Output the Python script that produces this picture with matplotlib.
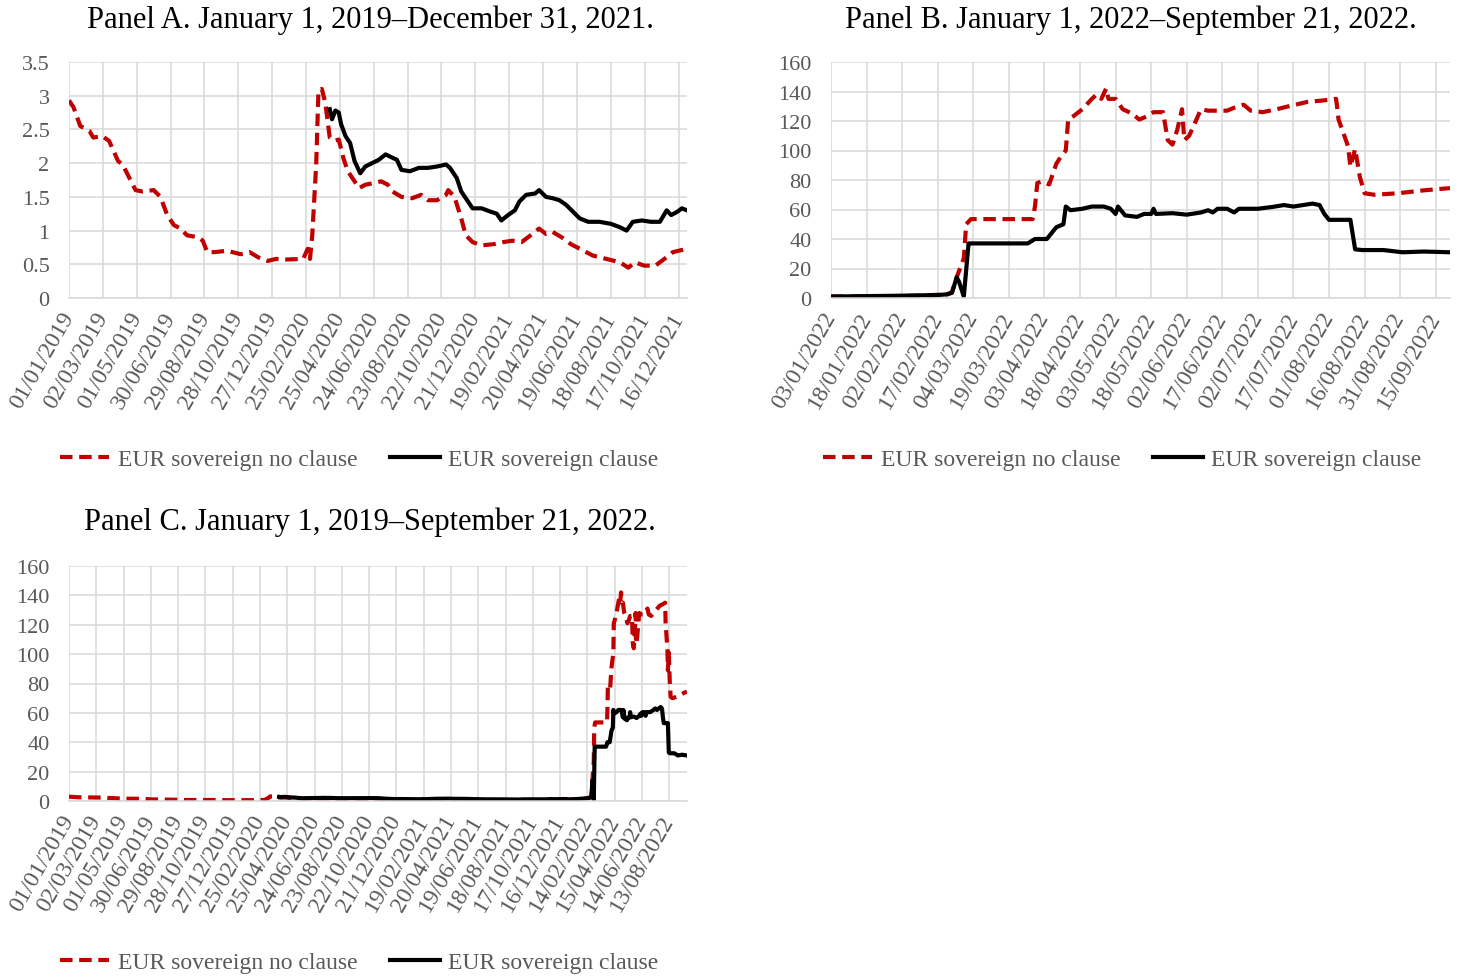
import matplotlib
matplotlib.use("Agg")
import matplotlib.pyplot as plt
import matplotlib.dates as mdates
import pandas as pd
from matplotlib.ticker import FuncFormatter, MultipleLocator

plt.rcParams['font.family'] = ['Liberation Serif', 'DejaVu Serif']

RED = '#C00000'
GREY_TXT = '#595959'
GRID = '#D9D9D9'

# Panel A: 2019-2021, EUR sovereign no clause
a_noclause_dates = ["2019-01-01", "2019-01-09", "2019-01-21", "2019-02-06", "2019-02-13", "2019-03-01",
                    "2019-03-13", "2019-03-21", "2019-03-29", "2019-04-06", "2019-04-18", "2019-04-29",
                    "2019-05-11", "2019-05-31", "2019-06-12", "2019-06-24", "2019-07-06", "2019-07-18",
                    "2019-07-29", "2019-08-18", "2019-08-26", "2019-09-03", "2019-09-15", "2019-10-08",
                    "2019-11-01", "2019-11-17", "2019-12-03", "2019-12-19", "2020-01-03", "2020-01-19",
                    "2020-02-20", "2020-02-28", "2020-03-03", "2020-03-07", "2020-03-14", "2020-03-18",
                    "2020-03-24", "2020-03-30", "2020-04-07", "2020-04-15", "2020-04-23", "2020-05-01",
                    "2020-05-09", "2020-05-21", "2020-05-29", "2020-06-09", "2020-06-21", "2020-07-07",
                    "2020-07-19", "2020-07-27", "2020-08-12", "2020-08-31", "2020-09-16", "2020-09-28",
                    "2020-10-14", "2020-10-30", "2020-11-03", "2020-11-14", "2020-11-26", "2020-12-04",
                    "2020-12-16", "2021-01-01", "2021-01-24", "2021-02-09", "2021-02-25", "2021-03-13",
                    "2021-03-29", "2021-04-13", "2021-04-25", "2021-05-07", "2021-05-23", "2021-06-08",
                    "2021-06-24", "2021-07-17", "2021-08-10", "2021-09-03", "2021-09-18", "2021-09-30",
                    "2021-10-16", "2021-11-05", "2021-11-21", "2021-12-06", "2021-12-31"]
a_noclause_vals = [2.93, 2.83, 2.55, 2.48, 2.38, 2.40,
                   2.33, 2.18, 2.03, 1.98, 1.78, 1.60,
                   1.58, 1.60, 1.50, 1.23, 1.08, 1.03,
                   0.93, 0.90, 0.85, 0.68, 0.68, 0.70,
                   0.65, 0.68, 0.60, 0.55, 0.58, 0.57,
                   0.58, 0.73, 0.58, 0.93, 1.98, 3.08,
                   3.10, 2.90, 2.38, 2.33, 2.35, 2.08,
                   1.88, 1.73, 1.63, 1.68, 1.70, 1.73,
                   1.68, 1.58, 1.50, 1.48, 1.53, 1.45,
                   1.45, 1.53, 1.60, 1.50, 1.18, 0.93,
                   0.83, 0.78, 0.80, 0.83, 0.85, 0.83,
                   0.93, 1.03, 0.95, 0.98, 0.90, 0.80,
                   0.73, 0.63, 0.58, 0.53, 0.45, 0.53,
                   0.48, 0.48, 0.58, 0.68, 0.73]

# Panel A: EUR sovereign clause
a_clause_dates = ["2020-04-07", "2020-04-11", "2020-04-17", "2020-04-23", "2020-04-27", "2020-05-05",
                  "2020-05-13", "2020-05-21", "2020-05-31", "2020-06-09", "2020-06-21", "2020-07-03",
                  "2020-07-15", "2020-07-27", "2020-08-04", "2020-08-12", "2020-08-27", "2020-09-12",
                  "2020-09-28", "2020-10-14", "2020-10-30", "2020-11-06", "2020-11-18", "2020-11-26",
                  "2020-12-08", "2020-12-16", "2021-01-01", "2021-01-17", "2021-01-28", "2021-02-05",
                  "2021-02-17", "2021-03-01", "2021-03-09", "2021-03-21", "2021-04-06", "2021-04-13",
                  "2021-04-25", "2021-05-07", "2021-05-19", "2021-05-31", "2021-06-12", "2021-06-24",
                  "2021-07-09", "2021-07-29", "2021-08-18", "2021-09-03", "2021-09-15", "2021-09-26",
                  "2021-10-12", "2021-10-28", "2021-11-13", "2021-11-25", "2021-12-03", "2021-12-14",
                  "2021-12-22", "2021-12-31"]
a_clause_vals = [2.80, 2.65, 2.78, 2.75, 2.58, 2.40,
                 2.30, 2.03, 1.85, 1.95, 2.00, 2.05,
                 2.13, 2.08, 2.05, 1.90, 1.88, 1.93,
                 1.93, 1.95, 1.98, 1.93, 1.78, 1.58,
                 1.43, 1.33, 1.33, 1.28, 1.25, 1.15,
                 1.23, 1.30, 1.43, 1.53, 1.55, 1.60,
                 1.50, 1.48, 1.45, 1.38, 1.28, 1.18,
                 1.13, 1.13, 1.10, 1.05, 1.00, 1.13,
                 1.15, 1.13, 1.13, 1.30, 1.23, 1.28,
                 1.33, 1.30]

# Panel B: 2022, EUR sovereign no clause
b_noclause_dates = ["2022-01-03", "2022-01-20", "2022-02-08", "2022-02-21", "2022-02-23", "2022-02-25",
                    "2022-02-28", "2022-03-01", "2022-03-03", "2022-03-12", "2022-03-29", "2022-03-30",
                    "2022-03-31", "2022-04-02", "2022-04-05", "2022-04-08", "2022-04-10", "2022-04-12",
                    "2022-04-13", "2022-04-15", "2022-04-19", "2022-04-23", "2022-04-25", "2022-04-27",
                    "2022-04-29", "2022-04-30", "2022-05-03", "2022-05-06", "2022-05-10", "2022-05-13",
                    "2022-05-16", "2022-05-19", "2022-05-23", "2022-05-25", "2022-05-27", "2022-05-29",
                    "2022-05-31", "2022-06-01", "2022-06-03", "2022-06-05", "2022-06-08", "2022-06-11",
                    "2022-06-19", "2022-06-22", "2022-06-26", "2022-06-29", "2022-07-04", "2022-07-10",
                    "2022-07-15", "2022-07-23", "2022-07-30", "2022-08-04", "2022-08-05", "2022-08-07",
                    "2022-08-09", "2022-08-10", "2022-08-12", "2022-08-14", "2022-08-16", "2022-08-20",
                    "2022-08-30", "2022-09-10", "2022-09-21"]
b_noclause_vals = [1.0, 1.0, 1.5, 2.5, 4, 14,
                   27, 50, 53.5, 53.5, 53.5, 62,
                   78, 79, 77, 91, 96, 100,
                   121, 123, 128, 135, 138, 135,
                   142, 135, 135, 128, 125, 121,
                   123, 126, 126, 107, 104, 114,
                   128, 107, 110, 117, 128, 127,
                   127, 129, 131, 127, 126, 128,
                   130, 133, 134, 135, 121, 112,
                   103, 89, 101, 82, 71, 70,
                   71, 73, 74.5]

# Panel B: EUR sovereign clause
b_clause_dates = ["2022-01-03", "2022-01-30", "2022-02-17", "2022-02-21", "2022-02-23", "2022-02-25",
                  "2022-02-26", "2022-02-28", "2022-03-02", "2022-03-03", "2022-03-27", "2022-03-30",
                  "2022-04-04", "2022-04-08", "2022-04-11", "2022-04-12", "2022-04-14", "2022-04-19",
                  "2022-04-23", "2022-04-28", "2022-05-01", "2022-05-03", "2022-05-04", "2022-05-07",
                  "2022-05-12", "2022-05-15", "2022-05-18", "2022-05-19", "2022-05-20", "2022-05-27",
                  "2022-06-02", "2022-06-08", "2022-06-11", "2022-06-13", "2022-06-15", "2022-06-19",
                  "2022-06-22", "2022-06-24", "2022-07-02", "2022-07-08", "2022-07-13", "2022-07-17",
                  "2022-07-21", "2022-07-25", "2022-07-28", "2022-07-30", "2022-08-01", "2022-08-10",
                  "2022-08-12", "2022-08-15", "2022-08-24", "2022-09-01", "2022-09-10", "2022-09-21"]
b_clause_vals = [1.0, 1.5, 2.0, 2.5, 3.5, 14,
                 11, 1.0, 37, 37, 37, 40,
                 40, 48, 50, 62, 59.5, 60.5,
                 62, 62, 60.5, 57, 62, 56,
                 55, 57, 57, 60.5, 57, 57.5,
                 56.5, 58, 59.5, 58, 60.5, 60.5,
                 58, 60.5, 60.5, 61.7, 63, 62,
                 63, 64, 63, 57, 53, 53,
                 33, 32.5, 32.5, 31, 31.5, 31]

labels = ['EUR sovereign no clause', 'EUR sovereign clause']
titles = ['Panel A. January 1, 2019\u2013December 31, 2021.',
          'Panel B. January 1, 2022\u2013September 21, 2022.',
          'Panel C. January 1, 2019\u2013September 21, 2022.']

W, H = 1463, 978
fig = plt.figure(figsize=(W / 100, H / 100), dpi=100)


def px_axes(left, top, right, bottom):
    return fig.add_axes([left / W, 1 - bottom / H, (right - left) / W, (bottom - top) / H])


def draw_panel(ax, nc_d, nc_v, c_d, c_v, xstart, xend, tick_freq, ntick, ymax, ystep, title, title_x, title_y,
               leg_x, leg_y):
    ax.plot(pd.to_datetime(nc_d), nc_v, color=RED, lw=3.0, dashes=(3.0, 1.6), label=labels[0])
    ax.plot(pd.to_datetime(c_d), c_v, color='black', lw=3.0, label=labels[1])
    ax.set_xlim(pd.Timestamp(xstart), pd.Timestamp(xend))
    ax.set_ylim(0, ymax)
    ax.yaxis.set_major_locator(MultipleLocator(ystep))
    ax.yaxis.set_major_formatter(FuncFormatter(lambda v, p: f'{v:g}'))
    ticks = pd.date_range(xstart, periods=ntick, freq=tick_freq)
    ax.set_xticks(ticks)
    ax.xaxis.set_major_formatter(mdates.DateFormatter('%d/%m/%Y'))
    ax.grid(True, color=GRID, lw=1.1)
    ax.set_axisbelow(True)
    for s in ['top', 'right', 'left']:
        ax.spines[s].set_visible(False)
    ax.spines['bottom'].set_color(GRID)
    ax.spines['bottom'].set_linewidth(1.1)
    ax.tick_params(length=0, labelsize=16, labelcolor=GREY_TXT)
    ax.tick_params(axis='y', pad=14)
    ax.tick_params(axis='x', pad=11, labelsize=17)
    for lab in ax.get_xticklabels():
        lab.set_rotation(60)
        lab.set_rotation_mode('anchor')
        lab.set_ha('right')
        lab.set_va('center')
    fig.text(title_x / W, 1 - title_y / H, title, ha='center', va='center', fontsize=22, color='black')
    leg = ax.legend(loc='center', bbox_to_anchor=(leg_x / W, 1 - leg_y / H), bbox_transform=fig.transFigure,
                    ncol=2, frameon=False, fontsize=17, handlelength=2.1, handletextpad=0.35,
                    columnspacing=1.4)
    for t in leg.get_texts():
        t.set_color(GREY_TXT)


axA = px_axes(69, 63, 687, 299)
draw_panel(axA, a_noclause_dates, a_noclause_vals, a_clause_dates, a_clause_vals,
           '2019-01-01', '2021-12-31', '60D', 19, 3.5, 0.5, titles[0], 370, 20, 359, 460)

axB = px_axes(831, 63, 1450, 299)
draw_panel(axB, b_noclause_dates, b_noclause_vals, b_clause_dates, b_clause_vals,
           '2022-01-03', '2022-09-21', '15D', 18, 160, 20, titles[1], 1131, 20, 1122, 460)

axC = px_axes(69, 567, 687, 802)
draw_panel(axC, a_noclause_dates + b_noclause_dates, a_noclause_vals + b_noclause_vals,
           a_clause_dates + b_clause_dates, a_clause_vals + b_clause_vals,
           '2019-01-01', '2022-09-21', '60D', 23, 160, 20, titles[2], 370, 522, 359, 963)

fig.savefig('out.png', dpi=100)
